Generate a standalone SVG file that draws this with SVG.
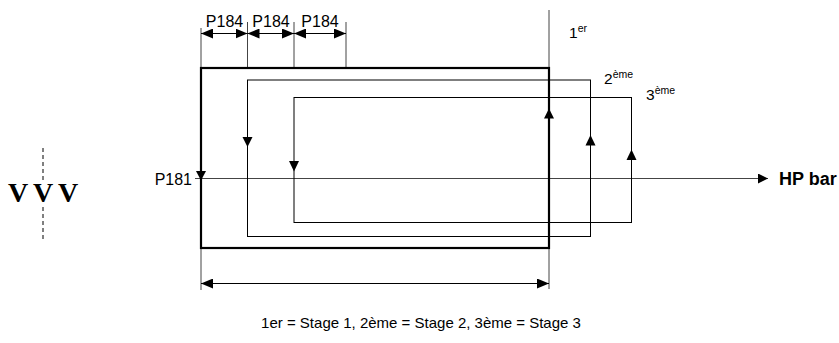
<svg xmlns="http://www.w3.org/2000/svg" width="839" height="343" viewBox="0 0 839 343">
<style>
.txt{font-family:"Liberation Sans",Arial,sans-serif;fill:#000}
.thin{fill:none;stroke:#000;stroke-width:1}
.ext{fill:none;stroke:#444;stroke-width:1}
.thick{fill:none;stroke:#000;stroke-width:2.2}
.dash{fill:none;stroke:#000;stroke-width:1;stroke-dasharray:4,3}
.ah{fill:#000}
.vv{font-family:"Liberation Serif","Times New Roman",serif;font-weight:bold;font-size:28px;fill:#000}
</style>
<defs>
<marker id="arr" markerUnits="userSpaceOnUse" viewBox="0 0 12 10" refX="12" refY="5" markerWidth="12" markerHeight="10" orient="auto-start-reverse">
<path d="M0,0 L12,5 L0,10 Z" fill="#000"/>
</marker>
<marker id="arrHP" markerUnits="userSpaceOnUse" viewBox="0 0 10 10" refX="10" refY="5" markerWidth="10" markerHeight="10" orient="auto">
<path d="M0,0 L10,5 L0,10 Z" fill="#000"/>
</marker>
</defs>
<rect width="839" height="343" fill="#fff"/>

<g id="section-mark">
<line class="dash" x1="43" y1="148" x2="43" y2="180"/>
<line class="dash" x1="43" y1="207" x2="43" y2="240"/>
<text class="vv" x="18" y="202" text-anchor="middle">V</text>
<text class="vv" x="43" y="202" text-anchor="middle">V</text>
<text class="vv" x="68" y="202" text-anchor="middle">V</text>
</g>

<g id="connectors">
<line class="ext" x1="549" y1="10" x2="549" y2="68"/>
<line class="ext" x1="201" y1="248" x2="201" y2="290"/>
<line class="ext" x1="549" y1="248" x2="549" y2="289"/>
<line class="ext" x1="201" y1="28" x2="201" y2="68"/>
<line class="ext" x1="247.5" y1="22" x2="247.5" y2="68"/>
<line class="ext" x1="294" y1="22" x2="294" y2="68"/>
<line class="ext" x1="346" y1="22" x2="346" y2="68"/>
<line class="thin" x1="201" y1="33.5" x2="247.5" y2="33.5" marker-start="url(#arr)" marker-end="url(#arr)"/>
<line class="thin" x1="247.5" y1="33.5" x2="294" y2="33.5" marker-start="url(#arr)" marker-end="url(#arr)"/>
<line class="thin" x1="294" y1="33.5" x2="346" y2="33.5" marker-start="url(#arr)" marker-end="url(#arr)"/>
<line class="thin" x1="201" y1="283.5" x2="549" y2="283.5" marker-start="url(#arr)" marker-end="url(#arr)"/>
<line class="ext" x1="195" y1="178.5" x2="768" y2="178.5" marker-end="url(#arrHP)"/>
</g>

<g id="stage1">
<rect class="thick" x="201" y="68" width="348" height="180"/>
<path class="ah" d="M196,171 L206,171 L201,180.5 Z"/>
<path class="ah" d="M549,108.5 L554,118.5 L544,118.5 Z"/>
</g>

<g id="stage2">
<rect class="thin" x="247.5" y="80" width="343" height="156.5"/>
<path class="ah" d="M242.5,137 L252.5,137 L247.5,147 Z"/>
<path class="ah" d="M590.5,135 L595.5,145.5 L585.5,145.5 Z"/>
</g>

<g id="stage3">
<rect class="thin" x="294" y="97.5" width="337.5" height="125"/>
<path class="ah" d="M289,161 L299,161 L294,171.5 Z"/>
<path class="ah" d="M631.5,149.5 L636.5,160 L626.5,160 Z"/>
</g>

<g id="labels">
<text class="txt" x="224.5" y="27" font-size="16" text-anchor="middle">P184</text>
<text class="txt" x="271" y="27" font-size="16" text-anchor="middle">P184</text>
<text class="txt" x="320" y="27" font-size="16" text-anchor="middle">P184</text>
<text class="txt" x="192" y="185" font-size="16" text-anchor="end">P181</text>
<text class="txt" x="779" y="184.5" font-size="18" font-weight="bold">HP bar</text>
<text class="txt" x="569" y="38" font-size="15.5">1<tspan font-size="10.5" dy="-6">er</tspan></text>
<text class="txt" x="604" y="84" font-size="15.5">2<tspan font-size="10.5" dy="-6">ème</tspan></text>
<text class="txt" x="646" y="100" font-size="15.5">3<tspan font-size="10.5" dy="-6">ème</tspan></text>
<text class="txt" x="421" y="328" font-size="15" text-anchor="middle">1er = Stage 1, 2ème = Stage 2, 3ème = Stage 3</text>
</g>
</svg>
